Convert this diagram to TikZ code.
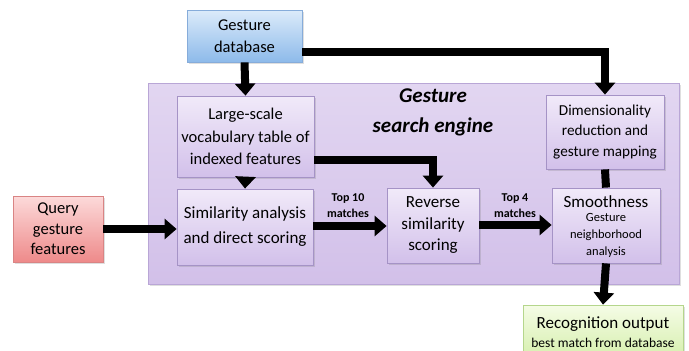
\documentclass[tikz,border=0pt]{standalone}
\usepackage{fontspec}
\setmainfont{Carlito}
\usetikzlibrary{arrows.meta,shadows,calc}
\definecolor{bigtop}{HTML}{E2D6F1}
\definecolor{bigbot}{HTML}{D2C0E9}
\definecolor{bigdraw}{HTML}{B9A6D6}
\definecolor{intop}{HTML}{F1EAF9}
\definecolor{inbot}{HTML}{D2C0EA}
\definecolor{indraw}{HTML}{A593C6}
\definecolor{bltop}{HTML}{DCEBFA}
\definecolor{blbot}{HTML}{8DBAEA}
\definecolor{bldraw}{HTML}{86ACDA}
\definecolor{rdtop}{HTML}{FCDADA}
\definecolor{rdbot}{HTML}{EE8A8A}
\definecolor{rddraw}{HTML}{D98484}
\definecolor{grtop}{HTML}{F5FCE6}
\definecolor{grbot}{HTML}{D3EEA8}
\definecolor{grdraw}{HTML}{B5D68C}
\tikzset{
  box/.style={draw, line width=0.8pt, align=center, inner sep=0pt,
    drop shadow={opacity=0.25, shadow xshift=2pt, shadow yshift=-2pt},
    font=\fontsize{16.5}{22.5}\selectfont},
  inbox/.style={box, draw=indraw, top color=intop, bottom color=inbot},
  blbox/.style={box, draw=bldraw, top color=bltop, bottom color=blbot},
  rdbox/.style={box, draw=rddraw, top color=rdtop, bottom color=rdbot},
  grbox/.style={box, draw=grdraw, top color=grtop, bottom color=grbot},
  arr/.style={line width=8pt, -{Triangle[width=20pt,length=12pt]}},
  bar/.style={line width=8pt},
  lbl/.style={font=\fontsize{12}{16}\selectfont\bfseries, align=center, inner sep=0pt},
}
\begin{document}
\begin{tikzpicture}[x=1pt,y=-1pt]
\useasboundingbox (0,0) rectangle (689,351);
\node[draw=bigdraw, line width=0.8pt, top color=bigtop, bottom color=bigbot,
  minimum width=531pt, minimum height=201pt, inner sep=0pt,
  drop shadow={opacity=0.25, shadow xshift=2pt, shadow yshift=-2pt}] (big) at (413.5,183.5) {};
\node[font=\fontsize{21}{30}\selectfont\bfseries\itshape, align=center, inner sep=0pt] (title) at (433,112) {Gesture\\search engine};
\node[blbox, minimum width=115pt, minimum height=52pt] (db) at (244.5,36) {Gesture\\database};
\node[inbox, minimum width=137pt, minimum height=81pt] (large) at (245.5,136.5) {Large-scale\\vocabulary table of\\indexed features};
\node[inbox, minimum width=118pt, minimum height=74pt, font=\fontsize{15.2}{20.5}\selectfont] (dim) at (605,132) {Dimensionality\\reduction and\\gesture mapping};
\node[inbox, minimum width=136pt, minimum height=76pt, font=\fontsize{17}{25}\selectfont] (sim) at (245,227) {Similarity analysis\\and direct scoring};
\node[inbox, minimum width=92pt, minimum height=75pt, font=\fontsize{17}{21.5}\selectfont] (rev) at (433,225.5) {Reverse\\similarity\\scoring};
\node[inbox, minimum width=108pt, minimum height=75pt] (smooth) at (606,225.5) {};
\node[font=\fontsize{17}{20}\selectfont, inner sep=0pt] (smt) at (606,202) {Smoothness};
\node[font=\fontsize{12.5}{17}\selectfont, align=center, inner sep=0pt] (smsub) at (606,235) {Gesture\\neighborhood\\analysis};
\node[rdbox, minimum width=90pt, minimum height=66pt, font=\fontsize{16.5}{20.5}\selectfont] (query) at (58,229) {Query\\gesture\\features};
\node[grbox, minimum width=160pt, minimum height=58pt] (rec) at (603,334) {};
\node[font=\fontsize{17}{20}\selectfont, inner sep=0pt] (rect) at (603,324) {Recognition output};
\node[font=\fontsize{13.5}{16}\selectfont, inner sep=0pt] (recs) at (603,343) {best match from database};
\node[lbl] (t10) at (348,206) {Top 10\\matches};
\node[lbl] (t4) at (515,206) {Top 4\\matches};
\draw[arr] (db.south) -- (large.north);
\draw[arr] (db.east |- 0,52) -| (dim.north);
\draw[arr] (large.east |- 0,160) -| (rev.north);
\draw[arr] (large.south) -- (sim.north);
\draw[arr] (query.east) -- (query.east -| sim.west);
\draw[arr] (sim.east |- 0,226) -- (rev.west |- 0,226);
\draw[arr] (rev.east |- 0,225) -- (smooth.west |- 0,225);
\draw[bar] (dim.south) -- (smooth.north);
\draw[arr] (smooth.south) -- (rec.north);
\end{tikzpicture}
\end{document}
